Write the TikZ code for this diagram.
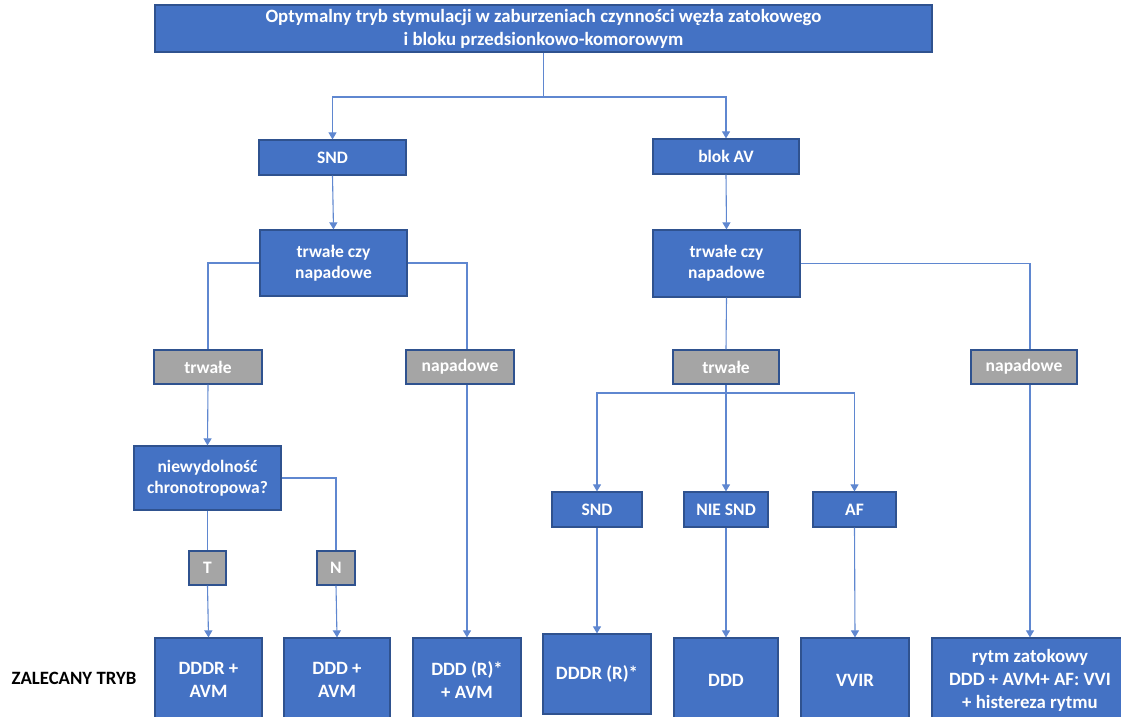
\documentclass[tikz,border=0pt]{standalone}
\usepackage{fontspec}
\setmainfont{Carlito}
\usetikzlibrary{arrows.meta,calc}
\definecolor{boxblue}{RGB}{68,114,196}
\definecolor{edgeblue}{RGB}{47,82,143}
\definecolor{lineblue}{RGB}{95,135,208}
\definecolor{boxgrey}{RGB}{165,165,165}
\begin{document}
\begin{tikzpicture}[x=1pt,y=-1pt,
  bluebox/.style={draw=edgeblue, fill=boxblue, line width=1.2pt, text=white,
    font=\bfseries\fontsize{17.5}{21}\selectfont, align=center, inner sep=0pt},
  greybox/.style={bluebox, fill=boxgrey},
  bigtext/.style={font=\bfseries\fontsize{18.8}{23}\selectfont},
  conn/.style={draw=lineblue, line width=1.1pt},
  arr/.style={conn, -{Triangle[width=8pt,length=7pt]}},
]
\useasboundingbox (0,0) rectangle (1121,717);

% nodes
\node[bluebox, bigtext, minimum width=777, minimum height=47] (top) at (543.5,28.5)
  {Optymalny tryb stymulacji w zaburzeniach czynności węzła zatokowego\\i bloku przedsionkowo-komorowym};
\node[bluebox, minimum width=147, minimum height=35] (snd1) at (332.5,157.5) {SND};
\node[bluebox, minimum width=146, minimum height=35] (blokav) at (726,156.5) {blok AV};
\node[bluebox, minimum width=147, minimum height=66] (tcn1) at (333.5,263) {trwałe czy\\napadowe};
\node[bluebox, minimum width=147, minimum height=67] (tcn2) at (726.5,263.5) {trwałe czy\\napadowe};
\node[greybox, minimum width=108, minimum height=34] (trw1) at (208,367) {trwałe};
\node[greybox, minimum width=108, minimum height=34] (nap1) at (460,367) {napadowe};
\node[greybox, minimum width=106, minimum height=34] (trw2) at (726,367) {trwałe};
\node[greybox, minimum width=106, minimum height=34] (nap2) at (1024,367) {napadowe};
\node[bluebox, minimum width=147, minimum height=64] (niew) at (207.5,478) {niewydolność\\chronotropowa?};
\node[greybox, minimum width=37, minimum height=34] (tbox) at (207.5,568) {T};
\node[greybox, minimum width=38, minimum height=34] (nbox) at (336,568) {N};
\node[bluebox, minimum width=90, minimum height=35] (snd2) at (597,509.5) {SND};
\node[bluebox, minimum width=84, minimum height=35] (niesnd) at (726,509.5) {NIE SND};
\node[bluebox, minimum width=83, minimum height=35] (af) at (854.5,509.5) {AF};
\node[bluebox, bigtext, minimum width=107, minimum height=84] (r1) at (208.5,680) {DDDR +\\AVM};
\node[bluebox, bigtext, minimum width=106, minimum height=84] (r2) at (337,680) {DDD +\\AVM};
\node[bluebox, bigtext, minimum width=108, minimum height=84] (r3) at (467,680) {DDD (R)*\\+ AVM};
\node[bluebox, bigtext, minimum width=108, minimum height=80] (r4) at (597,674) {DDDR (R)*};
\node[bluebox, bigtext, minimum width=104, minimum height=84] (r5) at (726,680) {DDD};
\node[bluebox, bigtext, minimum width=108, minimum height=84] (r6) at (855,680) {VVIR};
\node[bluebox, bigtext, minimum width=196, minimum height=84] (r7) at (1030,680)
  {rytm zatokowy\\DDD + AVM+ AF: VVI\\+ histereza rytmu};
\node[bigtext, text=black, inner sep=0pt] (lbl) at (74,678) {ZALECANY TRYB};

% junctions
\coordinate (j0) at (543.5,97);
\coordinate (j1) at (726,393);

% connectors
\draw[conn] (top.south) -- (j0);
\draw[arr] (j0) -| (snd1.north);
\draw[arr] (j0) -| (blokav.north);
\draw[arr] (snd1.south) -- (tcn1.north);
\draw[arr] (blokav.south) -- (tcn2.north);

\draw[conn] (tcn1.west) -| (trw1.north);
\draw[conn] (tcn1.east) -| (r3.north |- nap1.north);
\draw[arr] (r3.north |- nap1.south) -- (r3.north);
\draw[arr] (trw1.south) -- (niew.north);
\draw[conn] (niew.south) -- (tbox.north);
\draw[arr] (tbox.south) -- (r1.north);
\draw[conn] (niew.east) -| (nbox.north);
\draw[arr] (nbox.south) -- (r2.north);

\draw[conn] (tcn2.south) -- (trw2.north);
\draw[conn] (tcn2.east) -| (r7.north |- nap2.north);
\draw[arr] (r7.north |- nap2.south) -- (r7.north);
\draw[conn] (trw2.south) -- (j1);
\draw[arr] (j1) -| (snd2.north);
\draw[arr] (j1) -- (niesnd.north);
\draw[arr] (j1) -| (af.north);
\draw[arr] (snd2.south) -- (r4.north);
\draw[arr] (niesnd.south) -- (r5.north);
\draw[arr] (af.south) -- (r6.north);
\end{tikzpicture}
\end{document}
